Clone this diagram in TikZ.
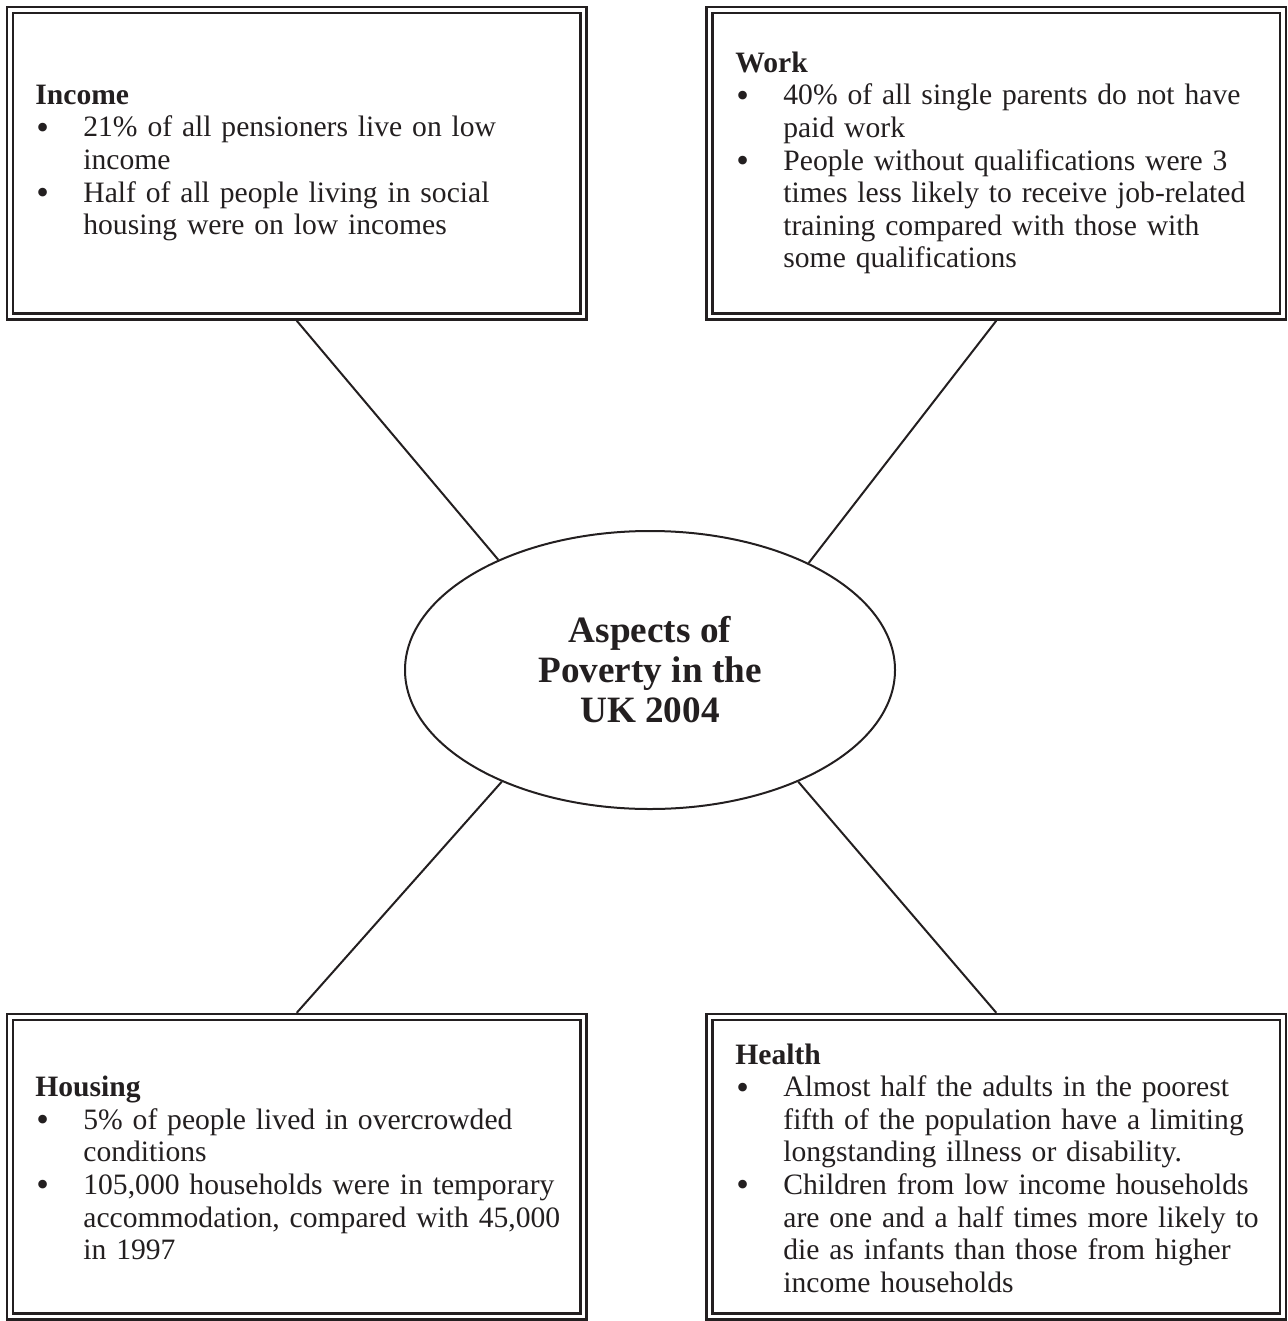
\documentclass[tikz,border=0pt]{standalone}
\usepackage{fontspec}
\setmainfont{Liberation Serif}
\usepackage{xcolor}
\usetikzlibrary{shapes.geometric}
\definecolor{ink}{HTML}{231F20}
\tikzset{
  every picture/.style={line join=miter, line cap=butt},
  infobox/.style={draw=ink, double, line width=1.25pt, double distance=1.75pt, outer sep=2.125pt, inner sep=0pt, minimum width=286.75pt},
  infotext/.style={anchor=west, text width=278pt, align=left, inner sep=0pt, text=ink, font=\fontsize{14.8}{16.3}\selectfont},
  hub/.style={draw=ink, ellipse, line width=1pt, inner sep=0pt, minimum width=245pt, minimum height=139pt, align=center, text=ink, font=\bfseries\fontsize{18.6}{20}\selectfont},
  spoke/.style={draw=ink, line width=1pt},
}
\newcommand{\pitem}{\makebox[24pt][l]{\hspace{0.5pt}\raisebox{-1.2pt}{\fontsize{18}{16}\selectfont\textbullet}}}
\newcommand{\pcont}{\hspace*{24pt}}

\begin{document}
\begin{tikzpicture}[x=0.5pt,y=-0.5pt]
\useasboundingbox (0,0) rectangle (1287,1321);
\node[hub] (aspects) at (650,670) {Aspects of\\Poverty in the\\UK 2004};
\node[infobox,minimum height=153.25pt] (income) at (296.75,163.25) {};
\node[infobox,minimum height=153.25pt] (work) at (996.25,163.25) {};
\node[infobox,minimum height=149.75pt] (housing) at (296.75,1166.75) {};
\node[infobox,minimum height=149.75pt] (health) at (996.25,1166.75) {};
\draw[spoke] (income.south) -- (aspects.144);
\draw[spoke] (work.south) -- (aspects.34);
\draw[spoke] (housing.north) -- (aspects.217);
\draw[spoke] (health.north) -- (aspects.323);
\node[infotext] (incometext) at (35,163) {\textbf{Income}\\
\pitem 21\% of all pensioners live on low\\
\pcont income\\
\pitem Half of all people living in social\\
\pcont housing were on low incomes};
\node[infotext] (worktext) at (735,163) {\textbf{Work}\\
\pitem 40\% of all single parents do not have\\
\pcont paid work\\
\pitem People without qualifications were 3\\
\pcont times less likely to receive job-related\\
\pcont training compared with those with\\
\pcont some qualifications};
\node[infotext] (housingtext) at (35,1168) {\textbf{Housing}\\
\pitem 5\% of people lived in overcrowded\\
\pcont conditions\\
\pitem 105,000 households were in temporary\\
\pcont accommodation, compared with 45,000\\
\pcont in 1997};
\node[infotext] (healthtext) at (735,1168) {\textbf{Health}\\
\pitem Almost half the adults in the poorest\\
\pcont fifth of the population have a limiting\\
\pcont longstanding illness or disability.\\
\pitem Children from low income households\\
\pcont are one and a half times more likely to\\
\pcont die as infants than those from higher\\
\pcont income households};
\end{tikzpicture}
\end{document}
